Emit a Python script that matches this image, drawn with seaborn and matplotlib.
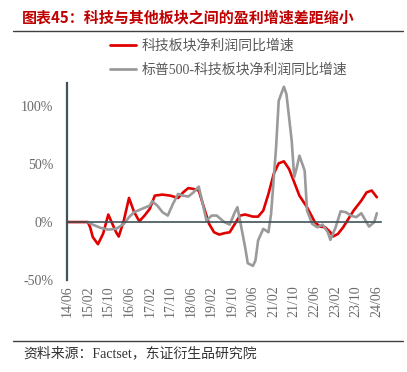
import matplotlib
matplotlib.use("Agg")
import matplotlib.pyplot as plt
import matplotlib.ticker as mticker
from matplotlib.lines import Line2D
import seaborn as sns
import pandas as pd

# ---------------- data ----------------
tech_dates = ["2014-06", "2015-02", "2015-03", "2015-04", "2015-06", "2015-08", "2015-10", "2015-11",
              "2016-01", "2016-02", "2016-04", "2016-06", "2016-08", "2016-10", "2016-12", "2017-02",
              "2017-04", "2017-07", "2017-10", "2018-01", "2018-03", "2018-05", "2018-07", "2018-09",
              "2018-11", "2019-01", "2019-03", "2019-05", "2019-07", "2019-09", "2019-11", "2020-01",
              "2020-03", "2020-06", "2020-08", "2020-10", "2020-12", "2021-02", "2021-04", "2021-06",
              "2021-08", "2021-10", "2021-12", "2022-03", "2022-06", "2022-08", "2022-10", "2022-12",
              "2023-01", "2023-03", "2023-05", "2023-07", "2023-09", "2023-12", "2024-02", "2024-04",
              "2024-06"]
tech_growth = [0.0, 0.0, -4.5, -13.0, -19.1, -10.0, 6.5, 1.3,
               -8.8, -12.5, 1.3, 20.8, 8.5, 0.7, 5.6, 11.4,
               22.8, 23.7, 22.8, 20.8, 25.6, 29.3, 28.6, 27.2,
               12.8, -1.6, -8.8, -10.8, -9.6, -8.8, -1.6, 5.6,
               6.5, 4.7, 4.7, 9.9, 24.3, 41.5, 50.7, 52.4,
               45.8, 34.3, 22.8, 12.8, -0.1, -3.9, -4.5, -8.8,
               -12.5, -10.2, -4.5, 2.7, 9.9, 18.5, 25.6, 27.2,
               21.4]

spx_dates = ["2015-02", "2015-04", "2015-07", "2015-10", "2016-01", "2016-04", "2016-06", "2016-08",
             "2016-11", "2017-02", "2017-03", "2017-05", "2017-07", "2017-09", "2017-11", "2018-01",
             "2018-03", "2018-05", "2018-07", "2018-09", "2018-10", "2018-12", "2019-02", "2019-04",
             "2019-07", "2019-09", "2019-11", "2019-12", "2020-01", "2020-03", "2020-04", "2020-06",
             "2020-07", "2020-08", "2020-10", "2020-11", "2020-12", "2021-01", "2021-03", "2021-04",
             "2021-06", "2021-07", "2021-09", "2021-10", "2021-11", "2021-12", "2022-02", "2022-03",
             "2022-05", "2022-07", "2022-09", "2022-11", "2022-12", "2023-02", "2023-04", "2023-06",
             "2023-08", "2023-10", "2023-12", "2024-03", "2024-05", "2024-06"]
spx_growth = [0.0, -2.2, -5.0, -6.5, -5.9, -1.6, 4.2, 8.5,
              11.4, 14.2, 18.0, 14.2, 8.5, 5.6, 15.7, 24.3,
              22.8, 22.0, 25.6, 30.6, 21.4, 1.3, 5.6, 5.6,
              -0.1, -2.2, 8.5, 12.8, 1.3, -21.7, -35.5, -37.8,
              -33.2, -15.9, -5.9, -7.3, -8.8, 7.0, 64.5, 104.7,
              116.8, 110.5, 70.3, 38.7, 47.3, 57.3, 44.4, 10.0,
              -1.6, -4.5, -2.2, -8.8, -15.4, -4.5, 9.3, 8.5,
              5.6, 4.2, 7.6, -3.9, -0.1, 7.6]

series_names = ["科技板块净利润同比增速", "标普500-科技板块净利润同比增速"]
tick_labels = ["14/06", "15/02", "15/10", "16/06", "17/02", "17/10", "18/06", "19/02",
               "19/10", "20/06", "21/02", "21/10", "22/06", "23/02", "23/10", "24/06"]
y_ticks = [-50, 0, 50, 100]

title = "图表45：科技与其他板块之间的盈利增速差距缩小"
source = "资料来源：Factset，东证衍生品研究院"

# ---------------- build frame ----------------
df = pd.concat([
    pd.DataFrame({"date": pd.to_datetime(tech_dates), "value": tech_growth, "series": series_names[0]}),
    pd.DataFrame({"date": pd.to_datetime(spx_dates), "value": spx_growth, "series": series_names[1]}),
], ignore_index=True)

sns.set_style("white")
plt.rcParams["font.family"] = ["Noto Sans CJK SC", "DejaVu Sans"]
serif_mix = ["Liberation Serif", "Noto Sans CJK SC"]

fig = plt.figure(figsize=(4.07, 3.72), dpi=100)
ax = fig.add_axes([67 / 407, 1 - 280 / 372, (381 - 67) / 407, (280 - 83) / 372])

palette = {series_names[0]: "#e00000", series_names[1]: "#9a9a9a"}
sns.lineplot(data=df, x="date", y="value", hue="series", palette=palette,
             hue_order=[series_names[0], series_names[1]], linewidth=1.9, ax=ax, legend=False)

axis_color = "#3f5358"
ax.set_ylim(-50, 120)
ax.set_xlim(pd.Timestamp("2014-06-01"), pd.Timestamp("2024-07-20"))
ax.set_xlabel("")
ax.set_ylabel("")

# y axis
ax.set_yticks(y_ticks)
ax.yaxis.set_major_formatter(mticker.FuncFormatter(lambda v, p: f"{int(v)}%"))
ax.tick_params(axis="y", direction="in", length=4, width=1, color=axis_color,
               labelcolor="#6a6a6a", labelsize=10, pad=10)
for lab in ax.get_yticklabels():
    lab.set_fontfamily(["Liberation Serif"])

# x axis: spine at zero, labels at bottom
tick_dates = [pd.Timestamp("20" + t[:2] + "-" + t[3:] + "-01") for t in tick_labels]
ax.spines["bottom"].set_position(("data", 0))
ax.spines["bottom"].set_color(axis_color)
ax.spines["bottom"].set_linewidth(1.2)
ax.spines["left"].set_color(axis_color)
ax.spines["left"].set_linewidth(1.6)
ax.spines["top"].set_visible(False)
ax.spines["right"].set_visible(False)
ax.set_xticks(tick_dates)
ax.tick_params(axis="x", direction="in", length=4, width=1, color=axis_color, labelbottom=False)

sec = ax.secondary_xaxis(0.0)
sec.set_xticks(tick_dates)
sec.set_xticklabels(tick_labels, rotation=90, fontfamily=["Liberation Serif"],
                    fontsize=10, color="#6a6a6a")
sec.tick_params(axis="x", length=0, pad=4)
sec.spines["bottom"].set_visible(False)

# legend
handles = [Line2D([], [], color=palette[n], linewidth=2.0) for n in series_names]
leg = fig.legend(handles, series_names, loc="upper left", bbox_to_anchor=(110 / 407, 1 - 39 / 372),
                 frameon=False, prop={"family": serif_mix, "size": 10}, handlelength=1.9,
                 handletextpad=0.35, labelspacing=0.75, borderaxespad=0, borderpad=0)
for t in leg.get_texts():
    t.set_color("#595959")

# title, rules and source
fig.text(22 / 407, 1 - 17 / 372, title, color="#c00000", fontsize=10.8, fontweight="bold",
         va="center", ha="left")
fig.add_artist(Line2D([13 / 407, 403 / 407], [1 - 31 / 372, 1 - 31 / 372], color="#404040", linewidth=1.0))
fig.add_artist(Line2D([13 / 407, 403 / 407], [1 - 341 / 372, 1 - 341 / 372], color="#404040", linewidth=1.0))
fig.text(23 / 407, 1 - 353 / 372, source, color="#333333", fontsize=10, va="center", ha="left",
         fontfamily=serif_mix)

fig.savefig("out.png", dpi=100)
